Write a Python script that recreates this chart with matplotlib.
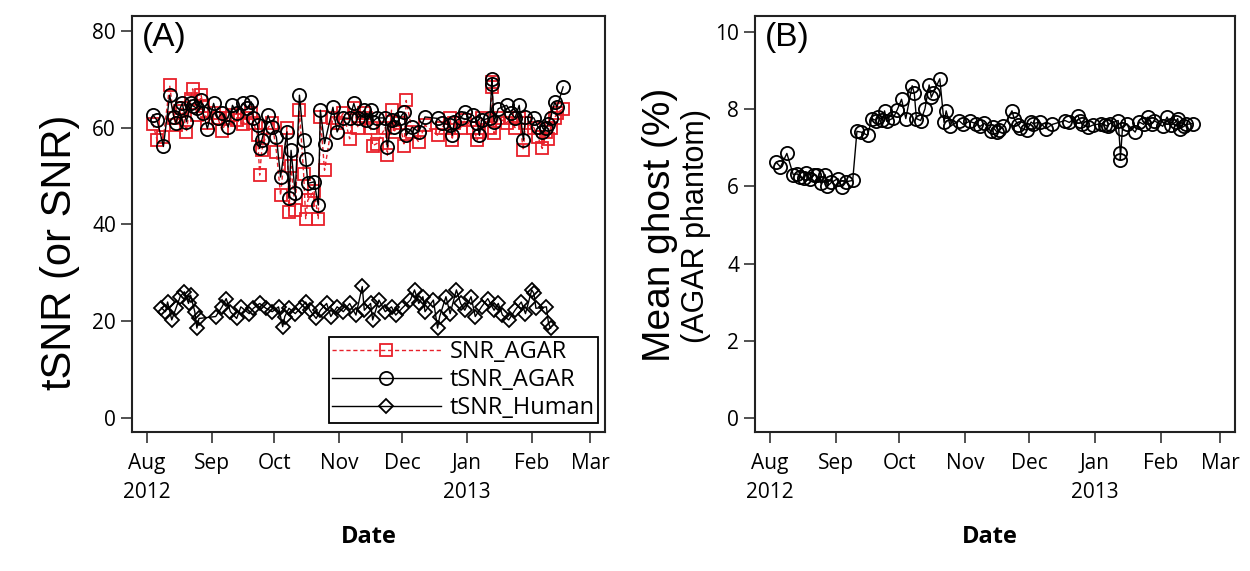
import pandas as pd
import matplotlib.pyplot as plt

plt.rcParams['font.family'] = ['Open Sans', 'DejaVu Sans']

# AGAR phantom scans (same dates for SNR, tSNR and ghost)
agar_dates = [
    '2012-08-04', '2012-08-06', '2012-08-09', '2012-08-12', '2012-08-14', '2012-08-15',
    '2012-08-17', '2012-08-18', '2012-08-20', '2012-08-22', '2012-08-23', '2012-08-25',
    '2012-08-27', '2012-08-28', '2012-08-30', '2012-09-02', '2012-09-04', '2012-09-06',
    '2012-09-09', '2012-09-11', '2012-09-13', '2012-09-16', '2012-09-18', '2012-09-20',
    '2012-09-21', '2012-09-23', '2012-09-24', '2012-09-25', '2012-09-28', '2012-09-30',
    '2012-10-02', '2012-10-04', '2012-10-07', '2012-10-08', '2012-10-09', '2012-10-11',
    '2012-10-13', '2012-10-15', '2012-10-16', '2012-10-17', '2012-10-20', '2012-10-22',
    '2012-10-23', '2012-10-25', '2012-10-29', '2012-10-31', '2012-11-03', '2012-11-06',
    '2012-11-08', '2012-11-10', '2012-11-13', '2012-11-14', '2012-11-16', '2012-11-17',
    '2012-11-19', '2012-11-23', '2012-11-24', '2012-11-26', '2012-11-27', '2012-11-30',
    '2012-12-02', '2012-12-03', '2012-12-06', '2012-12-09', '2012-12-12', '2012-12-18',
    '2012-12-20', '2012-12-24', '2012-12-25', '2012-12-26', '2012-12-29', '2012-12-31',
    '2013-01-04', '2013-01-06', '2013-01-07', '2013-01-08', '2013-01-12', '2013-01-13',
    '2013-01-13', '2013-01-14', '2013-01-16', '2013-01-20', '2013-01-22', '2013-01-24',
    '2013-01-26', '2013-01-28', '2013-01-29', '2013-02-02', '2013-02-04', '2013-02-06',
    '2013-02-08', '2013-02-09', '2013-02-10', '2013-02-12', '2013-02-13', '2013-02-16',
]
tsnr_agar = [
    62.6, 61.5, 56.1, 66.7, 62.2, 61.0, 64.0, 65.0, 61.2, 65.0, 64.5, 64.0,
    65.6, 63.0, 59.8, 65.0, 61.9, 63.0, 60.1, 64.6, 63.0, 65.0, 64.0, 65.3,
    62.0, 60.5, 55.7, 57.4, 62.5, 60.1, 58.0, 49.8, 59.1, 45.4, 55.3, 46.4,
    66.7, 57.4, 53.6, 48.5, 48.8, 44.0, 63.6, 56.7, 64.2, 59.1, 62.0, 61.9,
    65.0, 62.0, 63.6, 61.5, 63.6, 61.2, 62.0, 62.0, 56.0, 61.5, 60.1, 62.0,
    63.2, 58.4, 60.1, 59.1, 62.2, 61.9, 61.0, 60.5, 58.4, 61.2, 62.0, 63.2,
    62.5, 61.0, 58.4, 61.5, 62.0, 70.1, 69.0, 61.2, 63.9, 64.6, 63.0, 62.0,
    64.6, 57.4, 62.2, 62.0, 60.1, 59.1, 60.0, 60.8, 62.0, 65.3, 64.2, 68.4,
]
snr_agar = [
    60.8, 57.4, 58.0, 68.7, 62.0, 60.5, 63.5, 64.0, 59.1, 66.0, 68.0, 62.5,
    66.7, 64.5, 61.0, 63.0, 62.0, 59.4, 62.0, 62.5, 61.5, 60.8, 62.0, 63.0,
    61.0, 58.5, 50.2, 55.3, 60.0, 61.0, 55.0, 46.0, 60.0, 42.6, 52.0, 43.0,
    63.6, 50.5, 41.2, 45.0, 47.0, 41.2, 62.2, 51.2, 62.0, 61.0, 63.0, 57.7,
    64.0, 60.0, 63.0, 62.0, 60.0, 56.3, 56.7, 60.0, 54.3, 63.6, 59.0, 61.0,
    56.3, 65.6, 59.0, 57.0, 60.5, 58.4, 60.0, 62.0, 57.5, 61.0, 60.0, 61.5,
    60.0, 57.4, 59.0, 62.0, 60.0, 68.4, 69.5, 58.8, 62.0, 61.0, 62.0, 60.0,
    62.0, 55.3, 61.0, 60.0, 58.0, 55.7, 59.0, 57.7, 60.0, 62.0, 63.0, 63.9,
]
ghost_agar = [
    6.62, 6.50, 6.85, 6.30, 6.32, 6.25, 6.22, 6.35, 6.18, 6.30, 6.28, 6.08,
    6.30, 6.00, 6.10, 6.20, 5.98, 6.12, 6.15, 7.42, 7.40, 7.32, 7.75, 7.70,
    7.80, 7.72, 7.95, 7.68, 7.76, 7.98, 8.25, 7.75, 8.60, 8.40, 7.75, 7.70,
    8.00, 8.62, 8.30, 8.42, 8.78, 7.65, 7.95, 7.55, 7.70, 7.60, 7.68, 7.62,
    7.55, 7.63, 7.42, 7.53, 7.40, 7.45, 7.55, 7.95, 7.75, 7.58, 7.50, 7.45,
    7.66, 7.62, 7.66, 7.49, 7.60, 7.70, 7.65, 7.83, 7.70, 7.60, 7.53, 7.58,
    7.62, 7.58, 7.55, 7.62, 7.70, 6.86, 6.68, 7.49, 7.62, 7.40, 7.66, 7.60,
    7.79, 7.62, 7.70, 7.55, 7.79, 7.58, 7.66, 7.75, 7.49, 7.55, 7.60, 7.62,
]

# human subject scans
human_dates = [
    '2012-08-08', '2012-08-10', '2012-08-11', '2012-08-13', '2012-08-15', '2012-08-17',
    '2012-08-19', '2012-08-21', '2012-08-22', '2012-08-24', '2012-08-25', '2012-08-26',
    '2012-09-03', '2012-09-06', '2012-09-08', '2012-09-10', '2012-09-13', '2012-09-15',
    '2012-09-19', '2012-09-21', '2012-09-24', '2012-09-27', '2012-09-30', '2012-10-03',
    '2012-10-05', '2012-10-06', '2012-10-08', '2012-10-11', '2012-10-14', '2012-10-16',
    '2012-10-18', '2012-10-21', '2012-10-23', '2012-10-26', '2012-10-28', '2012-10-31',
    '2012-11-03', '2012-11-06', '2012-11-09', '2012-11-12', '2012-11-13', '2012-11-16',
    '2012-11-17', '2012-11-20', '2012-11-23', '2012-11-26', '2012-11-28', '2012-12-01',
    '2012-12-05', '2012-12-07', '2012-12-09', '2012-12-11', '2012-12-12', '2012-12-16',
    '2012-12-18', '2012-12-19', '2012-12-22', '2012-12-24', '2012-12-27', '2012-12-29',
    '2012-12-31', '2013-01-03', '2013-01-05', '2013-01-08', '2013-01-11', '2013-01-14',
    '2013-01-16', '2013-01-18', '2013-01-21', '2013-01-24', '2013-01-27', '2013-01-29',
    '2013-02-01', '2013-02-02', '2013-02-03', '2013-02-08', '2013-02-09', '2013-02-10',
]
tsnr_human = [
    22.8, 22.0, 24.0, 20.3, 22.7, 25.1, 26.1, 23.7, 25.4, 22.0, 18.6, 20.6,
    21.0, 23.0, 24.7, 22.0, 20.6, 23.0, 21.6, 22.7, 23.7, 22.7, 22.0, 23.0,
    18.9, 21.0, 22.7, 21.6, 23.0, 24.0, 22.3, 20.6, 22.3, 23.7, 21.0, 23.0,
    22.0, 23.7, 21.3, 27.2, 22.3, 23.7, 20.3, 24.4, 22.0, 23.0, 21.3, 22.7,
    24.4, 26.5, 23.7, 25.1, 22.0, 24.4, 18.6, 21.0, 25.1, 21.6, 26.5, 23.7,
    22.3, 25.1, 21.0, 23.0, 24.7, 22.3, 23.7, 21.3, 20.3, 22.3, 24.0, 21.6,
    26.5, 25.8, 22.7, 23.0, 19.6, 18.6,
]

month_ticks = ['2012-08-01', '2012-09-01', '2012-10-01', '2012-11-01', '2012-12-01',
               '2013-01-01', '2013-02-01', '2013-03-01']
month_labels = ['Aug\n2012', 'Sep', 'Oct', 'Nov', 'Dec', 'Jan\n2013', 'Feb', 'Mar']

agar_t = pd.to_datetime(agar_dates)
human_t = pd.to_datetime(human_dates)
ticks_t = pd.to_datetime(month_ticks)
xlim = (pd.Timestamp('2012-07-25'), pd.Timestamp('2013-03-08'))

red = '#e8202a'
arial = ['Liberation Sans', 'DejaVu Sans']

fig = plt.figure(figsize=(12.5, 5.71), dpi=100)
ax1 = fig.add_axes([0.1056, 0.2429, 0.3784, 0.7296])
ax2 = fig.add_axes([0.604, 0.2429, 0.384, 0.7296])

# panel A
ax1.plot(agar_t, snr_agar, color=red, ls=(0, (3, 2)), lw=1, marker='s', ms=9,
         mfc='none', mec=red, mew=1.3, label='SNR_AGAR')
ax1.plot(agar_t, tsnr_agar, color='black', lw=1, marker='o', ms=9.5,
         mfc='none', mec='black', mew=1.3, label='tSNR_AGAR')
ax1.plot(human_t, tsnr_human, color='black', lw=1, marker='D', ms=7,
         mfc='none', mec='black', mew=1.3, label='tSNR_Human')
ax1.set_ylim(-2.9, 83.1)
ax1.set_yticks([0, 20, 40, 60, 80])
ax1.text(0.02, 0.985, '(A)', transform=ax1.transAxes, ha='left', va='top',
         fontsize=24, family=arial)
leg = ax1.legend(loc='lower right', bbox_to_anchor=(0.985, 0.022), borderaxespad=0,
                 fontsize=17, handlelength=4.6, handletextpad=0.4, labelspacing=0.18,
                 borderpad=0.12, fancybox=False, framealpha=1, edgecolor='black')
leg.get_frame().set_linewidth(1.3)

# panel B
ax2.plot(agar_t, ghost_agar, color='black', lw=1, marker='o', ms=9.5,
         mfc='none', mec='black', mew=1.3)
ax2.set_ylim(-0.36, 10.41)
ax2.set_yticks([0, 2, 4, 6, 8, 10])
ax2.text(0.02, 0.985, '(B)', transform=ax2.transAxes, ha='left', va='top',
         fontsize=24, family=arial)

for ax in (ax1, ax2):
    ax.set_xlim(xlim)
    ax.set_xticks(ticks_t)
    ax.set_xticklabels(month_labels)
    ax.tick_params(labelsize=15, length=8, width=1.1, color='#222222')
    ax.tick_params(axis='x', pad=7)
    for lab in ax.get_xticklabels():
        lab.set_linespacing(1.5)
    for s in ax.spines.values():
        s.set_linewidth(1.5)
        s.set_color('#222222')

fig.text(0.295, 1 - 537 / 571, 'Date', ha='center', va='center', fontsize=17, fontweight='bold')
fig.text(0.792, 1 - 537 / 571, 'Date', ha='center', va='center', fontsize=17, fontweight='bold')
fig.text(60 / 1250, 1 - 252 / 571, 'tSNR (or SNR)', rotation=90, ha='center', va='center',
         fontsize=30, family=arial)
fig.text(660 / 1250, 1 - 225 / 571, 'Mean ghost (%)', rotation=90, ha='center', va='center',
         fontsize=28, family=arial)
fig.text(696 / 1250, 1 - 226 / 571, '(AGAR phantom)', rotation=90, ha='center', va='center',
         fontsize=22, family=arial)

fig.savefig('out.png', dpi=100)
